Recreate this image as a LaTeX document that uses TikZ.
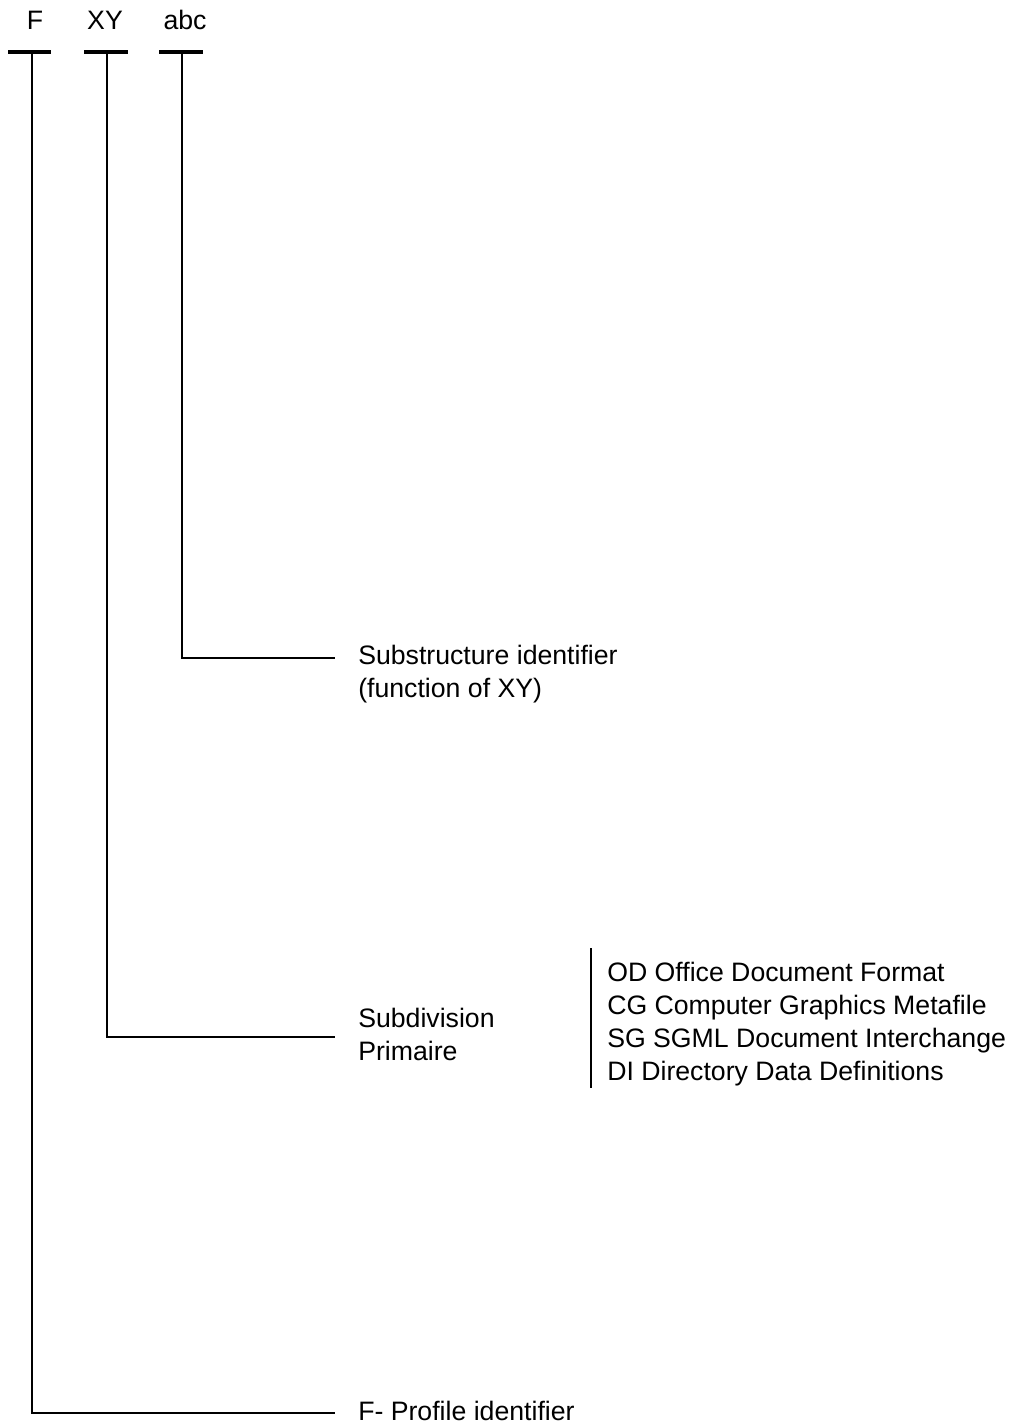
\documentclass[tikz,border=0pt]{standalone}
\usepackage{fontspec}
\setmainfont{Liberation Sans}
\begin{document}
\begin{tikzpicture}[x=0.75pt,y=-0.75pt,
  lbl/.style={font=\fontsize{20pt}{24.75pt}\selectfont, inner sep=0pt, anchor=west, align=left},
  toplbl/.style={font=\fontsize{20pt}{24.75pt}\selectfont, inner sep=0pt},
  wire/.style={line width=2pt},
  bar/.style={line width=2.5pt}]
\useasboundingbox (0,0) rectangle (1008,1424);

% field names along the top
\node[toplbl] (F)   at (35,20)  {F};
\node[toplbl] (XY)  at (105,20) {XY};
\node[toplbl] (abc) at (185,20) {abc};

% tee bars under each field
\coordinate (Ftop)   at (32,52);
\coordinate (XYtop)  at (107,52);
\coordinate (abctop) at (182,52);
\draw[bar] (8,52) -- (51,52);
\draw[bar] (84,52) -- (128,52);
\draw[bar] (159,52) -- (203,52);

% end points of the leaders
\coordinate (abcend) at (335,658);
\coordinate (XYend)  at (335,1037);
\coordinate (Fend)   at (335,1413);

% leaders
\draw[wire] (abctop) |- (abcend);
\draw[wire] (XYtop) |- (XYend);
\draw[wire] (Ftop) |- (Fend);

% descriptions
\node[lbl] (abcdesc) at (358,674) {Substructure identifier\\(function of XY)};
\node[lbl] (XYdesc)  at (358,1034) {Subdivision\\Primaire};
\node[lbl] (Fdesc)   at (358,1411) {F- Profile identifier};

% list of primary subdivisions
\draw[wire] (591,948) -- (591,1088);
\node[lbl] (list) at (607,1024) {OD Office Document Format\\CG Computer Graphics Metafile\\SG SGML Document Interchange\\DI Directory Data Definitions};
\end{tikzpicture}
\end{document}
